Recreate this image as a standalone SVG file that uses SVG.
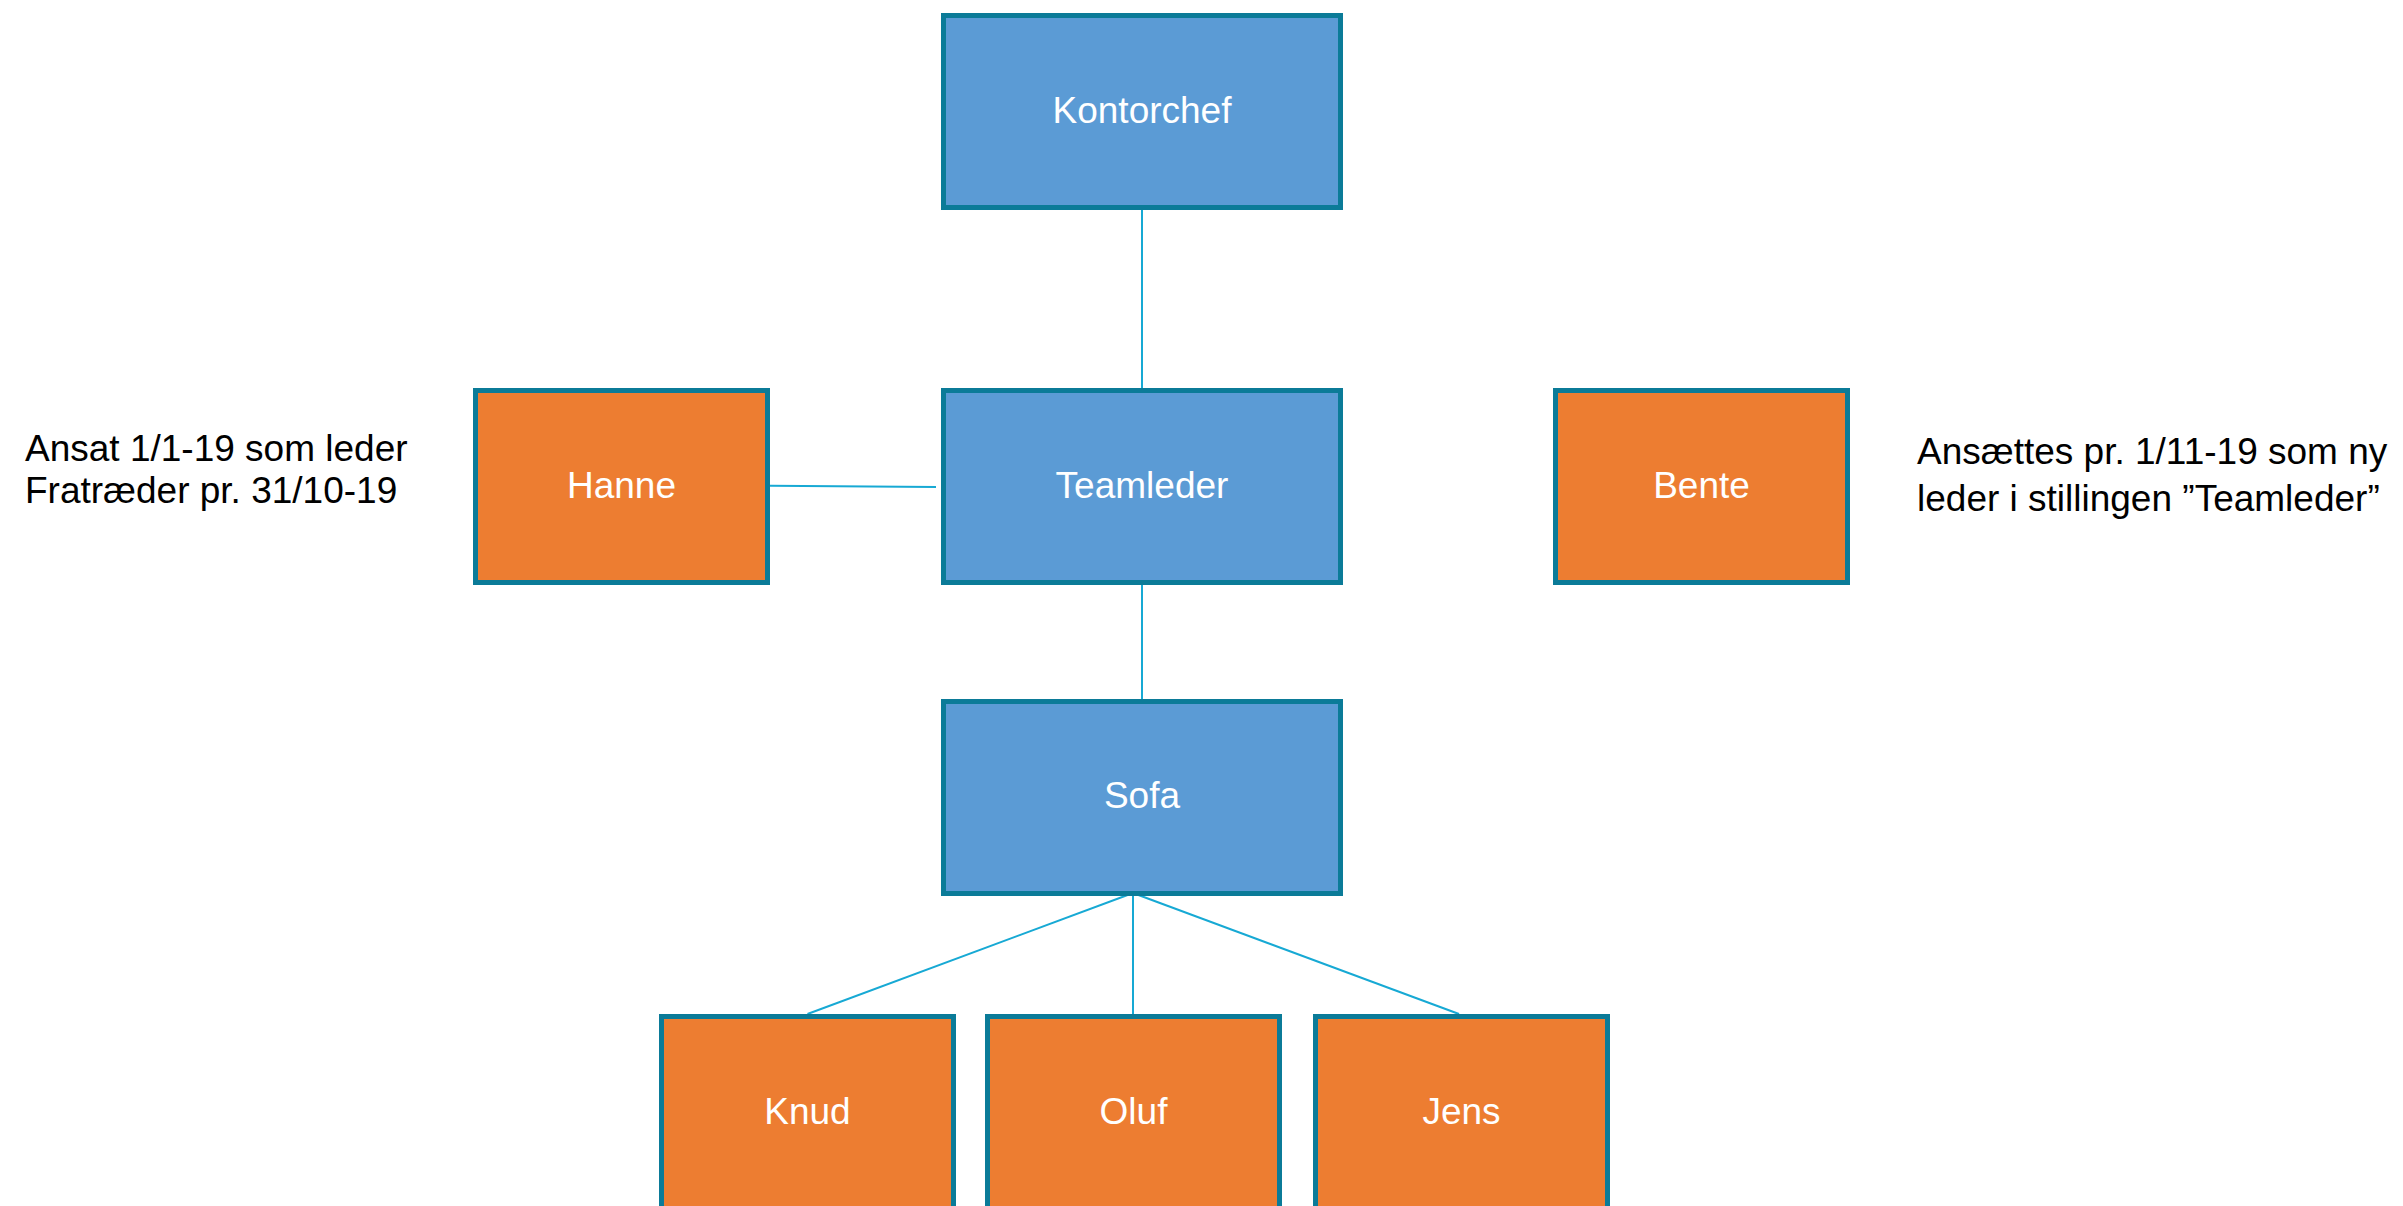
<svg xmlns="http://www.w3.org/2000/svg" width="2403" height="1206" viewBox="0 0 2403 1206">
<style>
.blue{fill:#5B9BD5;stroke:#0B7B98;stroke-width:5}
.orange{fill:#ED7D31;stroke:#0B7B98;stroke-width:5}
.lbl{font-family:"Liberation Sans",Arial,sans-serif;font-size:37px;fill:#FFFFFF;text-anchor:middle}
.note{font-family:"Liberation Sans",Arial,sans-serif;font-size:37px;fill:#000000}
.conn line{stroke:#17A9D4;stroke-width:2;fill:none}
</style>
<rect width="2403" height="1206" fill="#FFFFFF"/>
<g id="connectors" class="conn">
<line x1="1142" y1="210" x2="1142" y2="388"/>
<line x1="1142" y1="585" x2="1142" y2="699"/>
<line x1="770" y1="485.7" x2="936" y2="487"/>
<line x1="1133" y1="893" x2="807.5" y2="1014"/>
<line x1="1133" y1="893" x2="1133" y2="1014"/>
<line x1="1133" y1="893" x2="1459" y2="1014"/>
</g>
<g id="kontorchef"><rect class="blue" x="943.5" y="15.5" width="397" height="192"/><text class="lbl" x="1142" y="123">Kontorchef</text></g>
<g id="teamleder"><rect class="blue" x="943.5" y="390.5" width="397" height="192"/><text class="lbl" x="1142" y="498">Teamleder</text></g>
<g id="sofa"><rect class="blue" x="943.5" y="701.5" width="397" height="192"/><text class="lbl" x="1142" y="808">Sofa</text></g>
<g id="hanne"><rect class="orange" x="475.5" y="390.5" width="292" height="192"/><text class="lbl" x="621.5" y="498">Hanne</text></g>
<g id="bente"><rect class="orange" x="1555.5" y="390.5" width="292" height="192"/><text class="lbl" x="1701.5" y="498">Bente</text></g>
<g id="knud"><rect class="orange" x="661.5" y="1016.5" width="292" height="192"/><text class="lbl" x="807.5" y="1124">Knud</text></g>
<g id="oluf"><rect class="orange" x="987.5" y="1016.5" width="292" height="192"/><text class="lbl" x="1133.5" y="1124">Oluf</text></g>
<g id="jens"><rect class="orange" x="1315.5" y="1016.5" width="292" height="192"/><text class="lbl" x="1461.5" y="1124">Jens</text></g>
<g id="note-hanne"><text class="note" x="25" y="461">Ansat 1/1-19 som leder</text><text class="note" x="25" y="503">Fratræder pr. 31/10-19</text></g>
<g id="note-bente"><text class="note" x="1917" y="464">Ansættes pr. 1/11-19 som ny</text><text class="note" x="1917" y="511">leder i stillingen ”Teamleder”</text></g>
</svg>
